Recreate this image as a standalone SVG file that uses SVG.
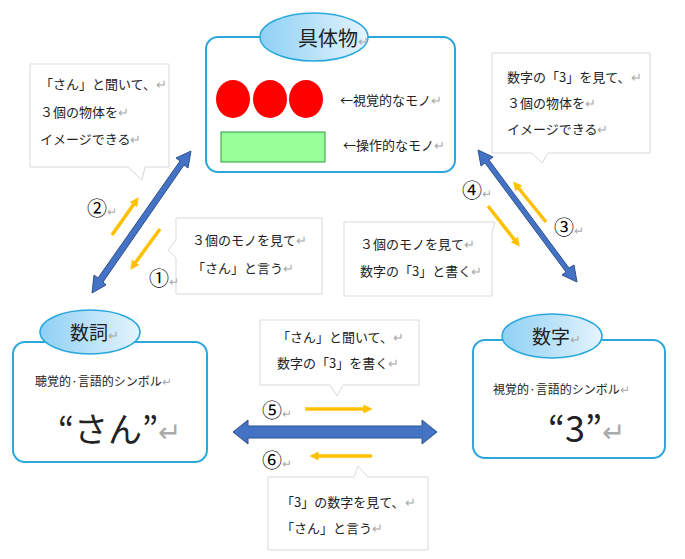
<svg xmlns="http://www.w3.org/2000/svg" width="685" height="559" viewBox="0 0 685 559">
<defs>
<linearGradient id="g" x1="0" y1="0" x2="1" y2="0"><stop offset="0" stop-color="#8fd0f5"/><stop offset="1" stop-color="#e4f4fd"/></linearGradient>
<marker id="ya" viewBox="0 0 10 10" refX="5" refY="5" markerWidth="2.6" markerHeight="2.6" orient="auto"><path d="M0,0L10,5L0,10z" fill="#ffc000"/></marker>
<style>
text{font-family:"Noto Sans CJK JP","Noto Sans",sans-serif;fill:#222}
.t{font-size:13px}
.r{fill:#aaa}
.box{fill:#fff;stroke:#2aa8dc;stroke-width:2}
.ell{fill:url(#g);stroke:#2aa8dc;stroke-width:1.5}
.co{fill:#fff;stroke:#d9d9d9;stroke-width:1}
.y{stroke:#ffc000;stroke-width:3.5;fill:none;marker-end:url(#ya)}
.b{fill:#4472c4;stroke:#2f528f;stroke-width:1}
.n{font-size:20px;font-family:"Noto Sans CJK JP",sans-serif;fill:#000}
</style>
</defs>
<g id="callouts">
<path class="co" d="M30,64H169V167H145L142,180L128,167H30Z"/>
<text class="t" x="40" y="89">「さん」と聞いて、<tspan class="r">↵</tspan></text>
<text class="t" x="40" y="117">３個の物体を<tspan class="r">↵</tspan></text>
<text class="t" x="40" y="144">イメージできる<tspan class="r">↵</tspan></text>
<path class="co" d="M492,53H650V153H548L542,163L532,153H492Z"/>
<text class="t" x="507" y="82">数字の「3」を見て、<tspan class="r">↵</tspan></text>
<text class="t" x="507" y="108">３個の物体を<tspan class="r">↵</tspan></text>
<text class="t" x="507" y="134">イメージできる<tspan class="r">↵</tspan></text>
<path class="co" d="M176,218H322V294H176V258L168,250L176,240Z"/>
<text class="t" x="192" y="245">３個のモノを見て<tspan class="r">↵</tspan></text>
<text class="t" x="192" y="273">「さん」と言う<tspan class="r">↵</tspan></text>
<path class="co" d="M344,222H495L492,232V296H344Z"/>
<text class="t" x="360" y="249">３個のモノを見て<tspan class="r">↵</tspan></text>
<text class="t" x="360" y="276">数字の「3」と書く<tspan class="r">↵</tspan></text>
<path class="co" d="M260,320H419V385H343L337,396L330,385H260Z"/>
<text class="t" x="277" y="342">「さん」と聞いて、<tspan class="r">↵</tspan></text>
<text class="t" x="277" y="368">数字の「3」を書く<tspan class="r">↵</tspan></text>
<path class="co" d="M268,477H354L358,466L368,477H428V550H268Z"/>
<text class="t" x="281" y="507">「3」の数字を見て、<tspan class="r">↵</tspan></text>
<text class="t" x="281" y="533">「さん」と言う<tspan class="r">↵</tspan></text>
</g>
<g id="node-concrete">
<rect class="box" x="206" y="37" width="249" height="135" rx="12"/>
<ellipse class="ell" cx="314" cy="37" rx="54" ry="24"/>
<text x="298" y="46" font-size="20">具体物<tspan class="r" font-size="13">↵</tspan></text>
<ellipse cx="233" cy="99" rx="17" ry="19" fill="#f00"/>
<ellipse cx="270" cy="99" rx="17" ry="19" fill="#f00"/>
<ellipse cx="306" cy="99" rx="17" ry="19" fill="#f00"/>
<text class="t" x="340" y="105">←視覚的なモノ<tspan class="r">↵</tspan></text>
<rect x="221" y="132" width="104" height="30" fill="#99ff99" stroke="#2a9d3a"/>
<text class="t" x="343" y="150">←操作的なモノ<tspan class="r">↵</tspan></text>
</g>
<g id="node-word">
<rect class="box" x="13" y="342" width="194" height="120" rx="12"/>
<ellipse class="ell" cx="90" cy="332" rx="50" ry="22"/>
<text x="70" y="340" font-size="19">数詞<tspan class="r" font-size="13">↵</tspan></text>
<text x="35" y="386" font-size="12">聴覚的·言語的シンボル<tspan class="r">↵</tspan></text>
<text x="58" y="442" font-size="34">“さん”<tspan class="r" font-size="28">↵</tspan></text>
</g>
<g id="node-numeral">
<rect class="box" x="473" y="340" width="192" height="118" rx="12"/>
<ellipse class="ell" cx="552" cy="336" rx="50" ry="22"/>
<text x="532" y="344" font-size="19">数字<tspan class="r" font-size="13">↵</tspan></text>
<text x="493" y="394" font-size="12">視覚的·言語的シンボル<tspan class="r">↵</tspan></text>
<text x="548" y="442" font-family="Liberation Sans,sans-serif" font-size="36">“3”<tspan class="r" font-size="28">↵</tspan></text>
</g>
<g id="connectors">
<path class="b" d="M92,293L94,275L98,278L180,161L176,158L191,151L188,168L184,165L103,282L106,285Z"/>
<path class="b" d="M478,150L493,157L489,160L569,268L574,265L577,282L562,275L566,272L485,163L481,166Z"/>
<path class="b" d="M233,432L248,420V426H422V420L437,432L422,444V438H248V444Z"/>
<line class="y" x1="112" y1="235" x2="136" y2="201"/>
<line class="y" x1="160" y1="229" x2="133" y2="266"/>
<line class="y" x1="546" y1="222" x2="516" y2="185"/>
<line class="y" x1="488" y1="206" x2="517" y2="243"/>
<line class="y" x1="305" y1="409" x2="368" y2="409"/>
<line class="y" x1="372" y1="456" x2="314" y2="456"/>
<text class="n" x="87" y="216">②<tspan class="r" font-size="12">↵</tspan></text>
<text class="n" x="149" y="286">①<tspan class="r" font-size="12">↵</tspan></text>
<text class="n" x="462" y="198">④<tspan class="r" font-size="12">↵</tspan></text>
<text class="n" x="554" y="235">③<tspan class="r" font-size="12">↵</tspan></text>
<text class="n" x="262" y="418">⑤<tspan class="r" font-size="12">↵</tspan></text>
<text class="n" x="262" y="468">⑥<tspan class="r" font-size="12">↵</tspan></text>
</g>
</svg>
